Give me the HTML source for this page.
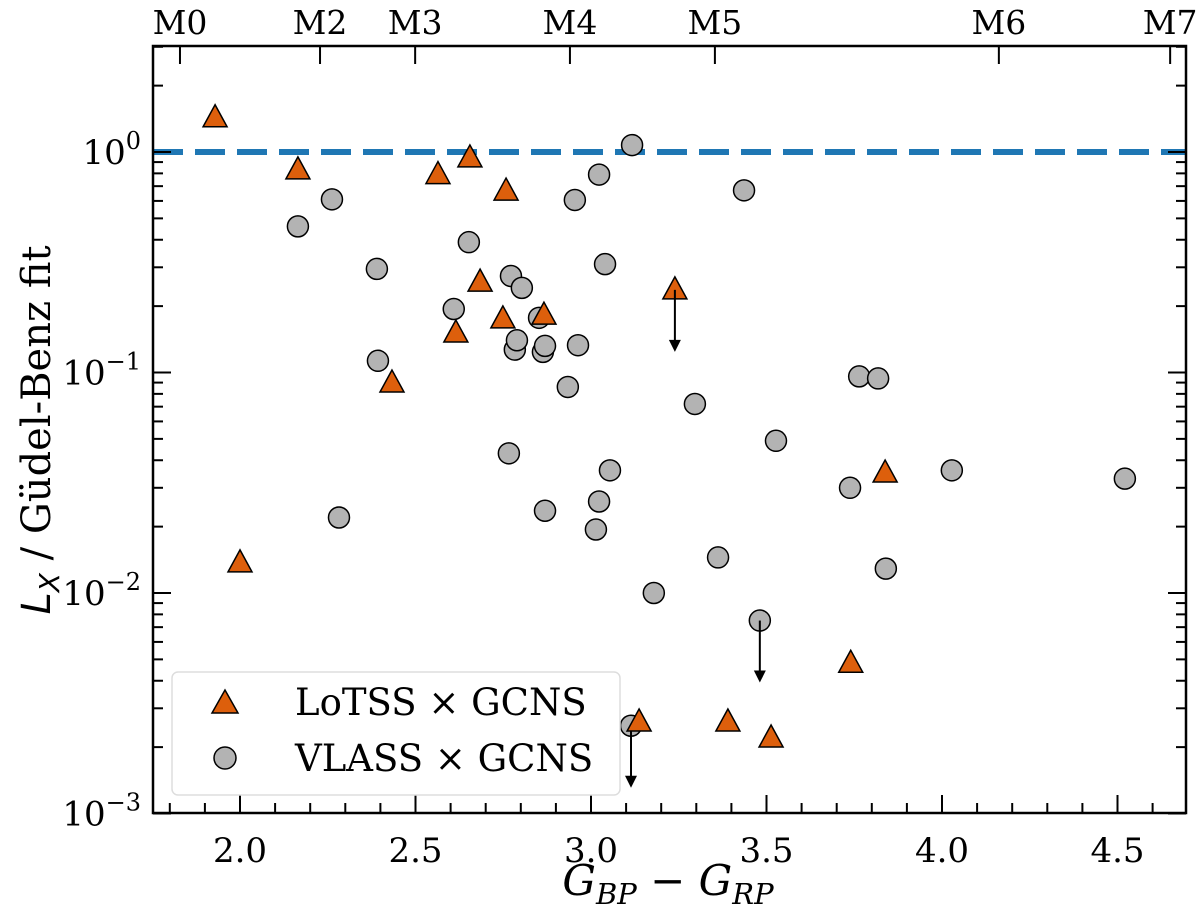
<!DOCTYPE html>
<html><head><meta charset="utf-8"><style>
body{margin:0;background:#fff}
svg{display:block}
text{font-family:"DejaVu Serif","Liberation Serif",serif;fill:#000}
</style></head><body>
<svg id="c" width="1200" height="911" viewBox="0 0 1200 911"></svg>
<script>
const triX=[1.929,2.165,2.0,2.433,2.564,2.655,2.684,2.615,2.758,2.749,2.866,3.239,3.137,3.39,3.513,3.74,3.838];
const triY=[1.43,0.83,0.0137,0.0896,0.79,0.94,0.257,0.151,0.665,0.175,0.182,0.237,0.0026,0.0026,0.0022,0.0048,0.035];
const triLim=[0,0,0,0,0,0,0,0,0,0,0,1,0,0,0,0,0];
const cirX=[2.165,2.262,2.282,2.39,2.393,2.609,2.652,2.772,2.803,2.783,2.789,2.766,2.863,2.869,2.852,2.934,2.869,2.954,2.963,3.023,3.04,3.054,3.023,3.014,3.117,3.114,3.179,3.296,3.362,3.436,3.481,3.527,3.738,3.764,3.818,3.84,4.028,4.521];
const cirY=[0.46,0.61,0.022,0.295,0.113,0.194,0.39,0.274,0.242,0.127,0.14,0.043,0.124,0.132,0.177,0.086,0.0236,0.606,0.133,0.79,0.31,0.036,0.026,0.0194,1.075,0.0025,0.01,0.072,0.0145,0.67,0.0075,0.049,0.03,0.096,0.094,0.0129,0.036,0.033];
const cirLim=[0,0,0,0,0,0,0,0,0,0,0,0,0,0,0,0,0,0,0,0,0,0,0,0,0,1,0,0,0,0,1,0,0,0,0,0,0,0];
const xTicks=[2.0,2.5,3.0,3.5,4.0,4.5];
const xTickLabels=["2.0","2.5","3.0","3.5","4.0","4.5"];
const yDecades=[0,-1,-2,-3];
const spLabels=["M0","M2","M3","M4","M5","M6","M7"];
const spPos=[1.829,2.228,2.499,2.94,3.353,4.162,4.65];

const L=153,R=1186,T=46,B=813;
const X=v=>240+(v-2)*351;
const Y=v=>152-Math.log10(v)*220.5;
const svg=document.getElementById('c');
const NS='http://www.w3.org/2000/svg';
function el(t,a,p){const e=document.createElementNS(NS,t);for(const k in a)e.setAttribute(k,a[k]);(p||svg).appendChild(e);return e;}

let dl=el('line',{x1:L,x2:R,y1:Y(1),y2:Y(1),stroke:'#1f77b4','stroke-width':6,'stroke-dasharray':'30 12'});



const tg=el('g',{stroke:'#000','stroke-width':2});


for(let v=1.8;v<=4.65;v+=0.1){const x=X(v);const major=Math.abs(v*2-Math.round(v*2))<1e-6;
 el('line',{x1:x,x2:x,y1:B,y2:B-(major?18:10)},tg);}
xTicks.forEach((v,i)=>{const t=el('text',{x:X(v),y:B+49,'text-anchor':'middle','font-size':34});t.textContent=xTickLabels[i];
 });
for(let d=-3;d<=0;d++){for(let m=1;m<10;m++){const v=m*Math.pow(10,d);const y=Y(v);if(y<T)continue;
 const len=m==1?18:10;el('line',{x1:L,x2:L+len,y1:y,y2:y},tg);el('line',{x1:R,x2:R-len,y1:y,y2:y},tg);}}
yDecades.forEach(d=>{const t=el('text',{x:L-12,y:Y(Math.pow(10,d))+12,'text-anchor':'end','font-size':34});
 t.innerHTML='10<tspan dy="-15" font-size="24">'+(d<0?'\u2212'+(-d):d)+'</tspan>';
 });
spPos.forEach((v,i)=>{el('line',{x1:X(v),x2:X(v),y1:T,y2:T+18},tg);
 const t=el('text',{x:X(v),y:34,'text-anchor':'middle','font-size':33});t.textContent=spLabels[i];
 });

function arrow(x,y){const g=el('g',{});el('line',{x1:x,x2:x,y1:y,y2:y+52,stroke:'#000','stroke-width':2},g);
 el('polygon',{points:`${x-6},${y+50} ${x+6},${y+50} ${x},${y+62}`,fill:'#000'},g);
 }
cirX.forEach((v,i)=>{const x=X(v),y=Y(cirY[i]);
 const c=el('circle',{cx:x,cy:y,r:10.5,fill:'#b3b3b3',stroke:'#000','stroke-width':1.5});
 
 if(cirLim[i])arrow(x,y);});
triX.forEach((v,i)=>{const x=X(v),y=Y(triY[i]);
 const p=el('polygon',{points:`${x},${y-13} ${x-12},${y+9} ${x+12},${y+9}`,fill:'#dd5f0c',stroke:'#000','stroke-width':1.5});
 
 if(triLim[i])arrow(x,y);});

let fr=el('rect',{x:L,y:T,width:R-L,height:B-T,fill:'none',stroke:'#000','stroke-width':2.5});


const lg=el('g',{});

el('rect',{x:172,y:672,width:448,height:123,rx:6,fill:'#fff','fill-opacity':0.85,stroke:'#ddd','stroke-width':1.5},lg);
el('polygon',{points:'225,690 212,713 238,713',fill:'#dd5f0c',stroke:'#000','stroke-width':1.5},lg);
let t1=el('text',{x:295,y:715,'font-size':37},lg);t1.textContent='LoTSS \u00d7 GCNS';

el('circle',{cx:225,cy:758,r:11,fill:'#b3b3b3',stroke:'#000','stroke-width':1.5},lg);
let t2=el('text',{x:295,y:771,'font-size':37},lg);t2.textContent='VLASS \u00d7 GCNS';


let xt=el('text',{x:668,y:895,'text-anchor':'middle','font-size':42,'font-style':'italic','font-family':'DejaVu Sans, sans-serif'});
xt.innerHTML='G<tspan dy="9" font-size="29">BP</tspan><tspan dy="-9"> \u2212 G</tspan><tspan dy="9" font-size="29">RP</tspan>';

let yt=el('text',{x:0,y:0,'text-anchor':'middle','font-size':40,transform:'translate(50,430) rotate(-90)'});
yt.innerHTML='<tspan font-style="italic" font-family="DejaVu Sans, sans-serif">L</tspan><tspan dy="9" font-size="28" font-style="italic" font-family="DejaVu Sans, sans-serif">X</tspan><tspan dy="-9"> / Güdel-Benz fit</tspan>';

</script>
</body></html>
